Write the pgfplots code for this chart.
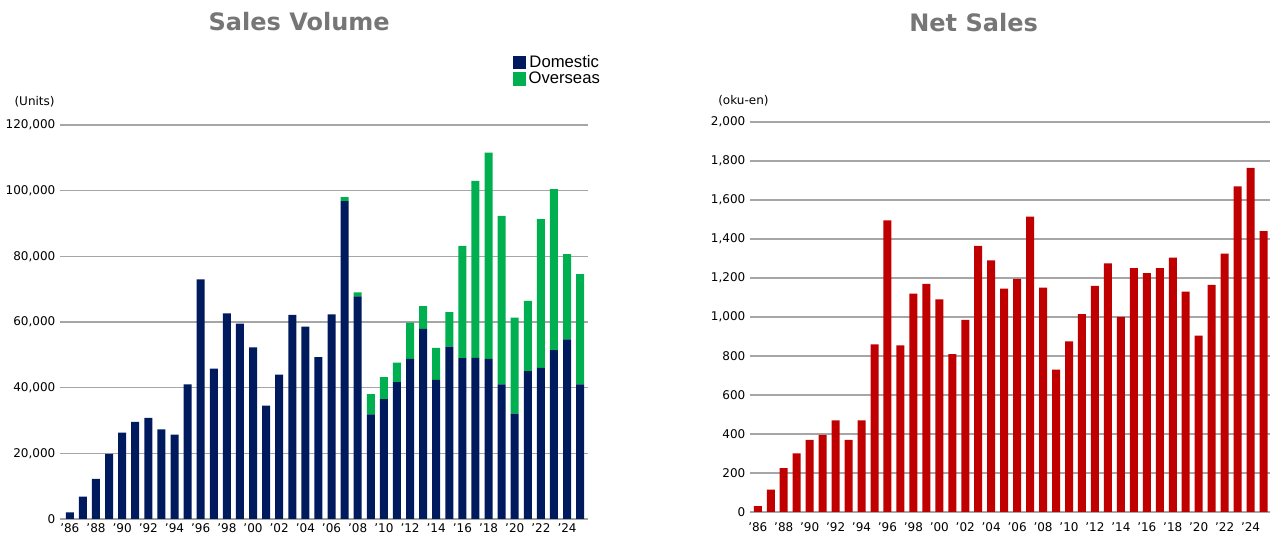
\documentclass[border=0pt]{standalone}
\usepackage{pgfplots}
\pgfplotsset{compat=1.18}
\usepackage{pgfplotstable}
\usepackage{fontspec}
\setmainfont{DejaVu Sans}
\newfontfamily\arial{Liberation Sans}
\definecolor{navy}{RGB}{0,26,94}
\definecolor{grn}{RGB}{0,176,80}
\definecolor{rd}{RGB}{192,0,0}
\definecolor{ttl}{RGB}{118,118,118}
\pgfplotstableread{
i dom ovs net
0 2000 0 30
1 6800 0 115
2 12200 0 225
3 19800 0 300
4 26300 0 370
5 29600 0 395
6 30800 0 470
7 27300 0 370
8 25700 0 470
9 41000 0 860
10 73000 0 1495
11 45800 0 855
12 62600 0 1120
13 59500 0 1170
14 52300 0 1090
15 34500 0 810
16 44000 0 985
17 62200 0 1365
18 58600 0 1290
19 49300 0 1145
20 62300 0 1195
21 96800 1200 1515
22 67800 1200 1150
23 31900 6100 730
24 36500 6700 875
25 41700 5900 1015
26 48800 11000 1160
27 57900 6900 1275
28 42400 9700 1000
29 52500 10500 1250
30 49000 34200 1225
31 49100 53900 1250
32 48800 62800 1305
33 41000 51300 1130
34 32100 29200 905
35 45000 21400 1165
36 46000 45300 1325
37 51400 49100 1670
38 54700 26000 1765
39 41000 33600 1440
}\data
\pgfplotsset{
  base/.style={scale only axis, axis line style={draw=none}, axis x line*=bottom,
    ymajorgrids, grid style={gray!70, line width=0.8pt},
    tick style={draw=none}, ymin=0, scaled y ticks=false,
    xtick={0,2,...,38},
    xticklabels={'86,'88,'90,'92,'94,'96,'98,'00,'02,'04,'06,'08,'10,'12,'14,'16,'18,'20,'22,'24},
    tick label style={font=\fontsize{9}{10}\selectfont},
    clip=false}
}
\begin{document}
\begin{tikzpicture}[x=1pt,y=1pt]
\useasboundingbox (0,0) rectangle (960,416.25);
\begin{axis}[base, at={(45pt,27pt)}, anchor=south west, width=396pt, height=295.5pt,
  xmin=-0.75, xmax=39.6, ymax=120000, ytick={0,20000,...,120000},
  yticklabels={0,{20,000},{40,000},{60,000},{80,000},{100,000},{120,000}},
  ybar stacked, bar width=6pt,
  legend style={draw=none, fill=none, at={(1.028,1.085)}, anchor=south east, font=\arial\fontsize{12.5}{13}\selectfont, row sep=-2pt, inner xsep=0pt},
  legend image code/.code={\fill[#1] (0pt,-5pt) rectangle (10pt,5pt);}]
\addplot[fill=navy, draw=none] table[x=i,y=dom]{\data};
\addplot[fill=grn, draw=none] table[x=i,y=ovs]{\data};
\legend{Domestic,Overseas}
\node[font=\fontsize{9}{10}\selectfont, anchor=west] at (rel axis cs:-0.095,1.06) {(Units)};
\node[font=\bfseries\fontsize{18}{20}\selectfont, text=ttl] at (rel axis cs:0.453,1.263) {Sales Volume};
\end{axis}
\begin{axis}[base, at={(562.5pt,32.25pt)}, anchor=south west, width=390pt, height=292.5pt,
  xmin=-0.6, xmax=39.5, ymax=2000, ytick={0,200,...,2000},
  yticklabels={0,200,400,600,800,{1,000},{1,200},{1,400},{1,600},{1,800},{2,000}},
  ybar, bar width=6pt]
\addplot[fill=rd, draw=none] table[x=i,y=net]{\data};
\node[font=\fontsize{9}{10}\selectfont, anchor=west] at (rel axis cs:-0.07,1.055) {(oku-en)};
\node[font=\bfseries\fontsize{18}{20}\selectfont, text=ttl] at (rel axis cs:0.43,1.255) {Net Sales};
\end{axis}
\end{tikzpicture}
\end{document}
